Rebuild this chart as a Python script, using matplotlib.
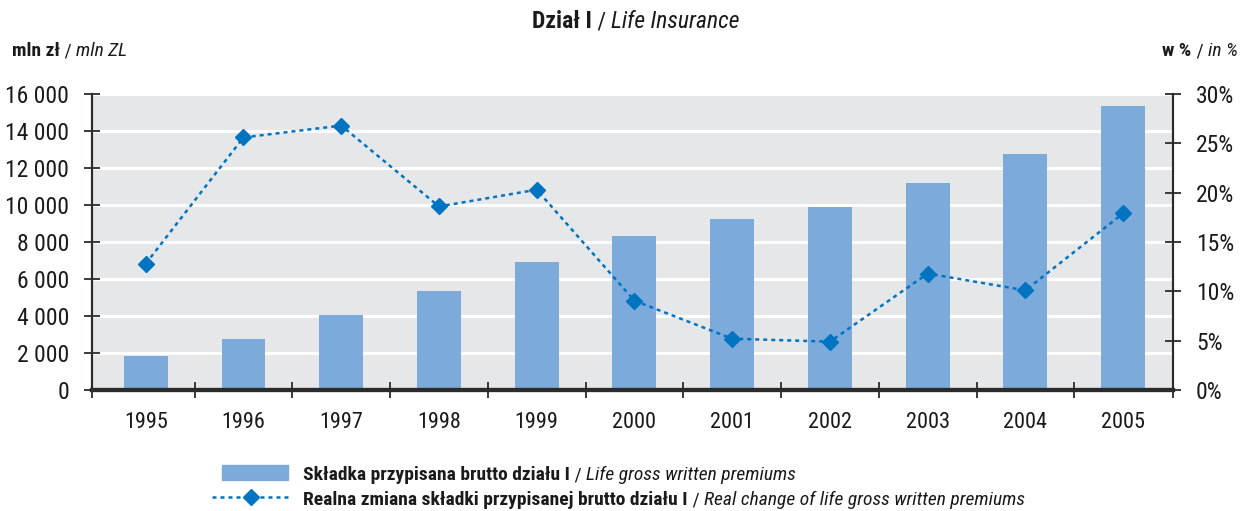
import numpy as np
import matplotlib
matplotlib.use("Agg")
import matplotlib.pyplot as plt
from matplotlib.ticker import FuncFormatter, FixedLocator
from matplotlib.lines import Line2D
from matplotlib.patches import Rectangle

plt.rcParams['font.family'] = ['Roboto Condensed', 'Archivo Narrow', 'Barlow Semi Condensed', 'DejaVu Sans']

years = ['1995', '1996', '1997', '1998', '1999', '2000', '2001', '2002', '2003', '2004', '2005']
premiums = [1840, 2760, 4050, 5350, 6920, 8340, 9260, 9890, 11170, 12760, 15350]   # mln zl
real_change = [12.8, 25.6, 26.8, 18.6, 20.3, 9.05, 5.2, 4.9, 11.8, 10.1, 17.9]   # %

bar_col = '#7BAADB'
line_col = '#0074C1'
axis_col = '#2b2b2b'
txt_col = '#1a1a1a'
W, H = 1248, 511


def rich(x, y, parts, size, ha='left'):
    # chain text pieces (text, weight, style) one after another, figure coords
    if ha == 'right':
        parts = parts[::-1]
    prev = None
    for txt, weight, style in parts:
        kw = dict(fontsize=size, fontweight=weight, fontstyle=style, color=txt_col, va='bottom', ha=ha)
        if prev is None:
            prev = fig.text(x, y, txt, **kw)
        else:
            xy = (0, 0) if ha == 'right' else (1, 0)
            prev = fig.add_artist(matplotlib.text.Annotation(txt, xy=xy, xycoords=prev,
                                                             annotation_clip=False, **kw))
    return prev


fig = plt.figure(figsize=(W / 100, H / 100), dpi=100)
ax = fig.add_axes([92 / W, 1 - 390 / H, (1173 - 92) / W, (390 - 94) / H])
ax.set_facecolor('#E6E7E9')

x = np.arange(len(years))
ax.bar(x, premiums, width=0.45, color=bar_col, zorder=2)
ax.set_ylim(0, 16000)
ax.set_yticks(np.arange(0, 16001, 2000))
ax.yaxis.set_major_formatter(FuncFormatter(lambda v, p: f'{int(v):,}'.replace(',', ' ')))
ax.grid(axis='y', color='white', lw=2.2)
ax.set_axisbelow(True)
ax.set_xlim(-0.55, 10.51)
ax.set_xticks(x)
ax.set_xticklabels(years)
ax.xaxis.set_minor_locator(FixedLocator([-0.55] + list(x[:-1] + 0.5) + [10.51]))
ax.tick_params(axis='x', which='major', length=0, pad=16, labelsize=16, labelcolor=txt_col)
ax.tick_params(axis='x', which='minor', direction='inout', length=11, width=1.3, color=axis_col)
ax.tick_params(axis='y', direction='inout', length=11, width=1.3, color=axis_col,
               pad=11, labelsize=17, labelcolor=txt_col)

ax2 = ax.twinx()
ax2.plot(x, real_change, color=line_col, lw=1.8, ls=(0, (1.6, 1.6)),
         marker='D', ms=8.5, mec=line_col, mfc=line_col, zorder=3)
ax2.set_ylim(0, 30)
ax2.set_yticks(np.arange(0, 31, 5))
ax2.yaxis.set_major_formatter(FuncFormatter(lambda v, p: f'{int(v)}%'))
ax2.tick_params(axis='y', direction='inout', length=11, width=1.3, color=axis_col,
                pad=11, labelsize=17, labelcolor=txt_col)

for a in (ax, ax2):
    a.spines['top'].set_visible(False)
    for s in ('left', 'right', 'bottom'):
        a.spines[s].set_color(axis_col)
    a.spines['left'].set_linewidth(1.5)
    a.spines['right'].set_linewidth(1.5)
    a.spines['bottom'].set_linewidth(3)

# titles
rich(532 / W, 1 - 33 / H, [('Dział I', 'bold', 'normal'), (' / ', 'normal', 'normal'),
                           ('Life Insurance', 'normal', 'italic')], 17)
rich(12 / W, 1 - 60 / H, [('mln zł', 'bold', 'normal'), (' / ', 'normal', 'normal'),
                          ('mln ZL', 'normal', 'italic')], 14)
rich(1238 / W, 1 - 60 / H, [('w %', 'bold', 'normal'), (' / ', 'normal', 'normal'),
                            ('in %', 'normal', 'italic')], 14, ha='right')

# legend
fig.add_artist(Rectangle((222 / W, 1 - 480 / H), 66 / W, 15 / H, color=bar_col,
                         transform=fig.transFigure))
fig.add_artist(Line2D([212 / W, 251 / W, 290 / W], [1 - 497 / H] * 3, color=line_col, lw=1.8,
                      ls=(0, (1.6, 1.6)), marker='D', ms=8.5, markevery=[1],
                      transform=fig.transFigure))
rich(303 / W, 1 - 484 / H, [('Składka przypisana brutto działu I', 'bold', 'normal'),
                            (' / ', 'normal', 'normal'),
                            ('Life gross written premiums', 'normal', 'italic')], 14)
rich(303 / W, 1 - 509 / H, [('Realna zmiana składki przypisanej brutto działu I', 'bold', 'normal'),
                            (' / ', 'normal', 'normal'),
                            ('Real change of life gross written premiums', 'normal', 'italic')], 14)

fig.savefig('out.png', dpi=100)
